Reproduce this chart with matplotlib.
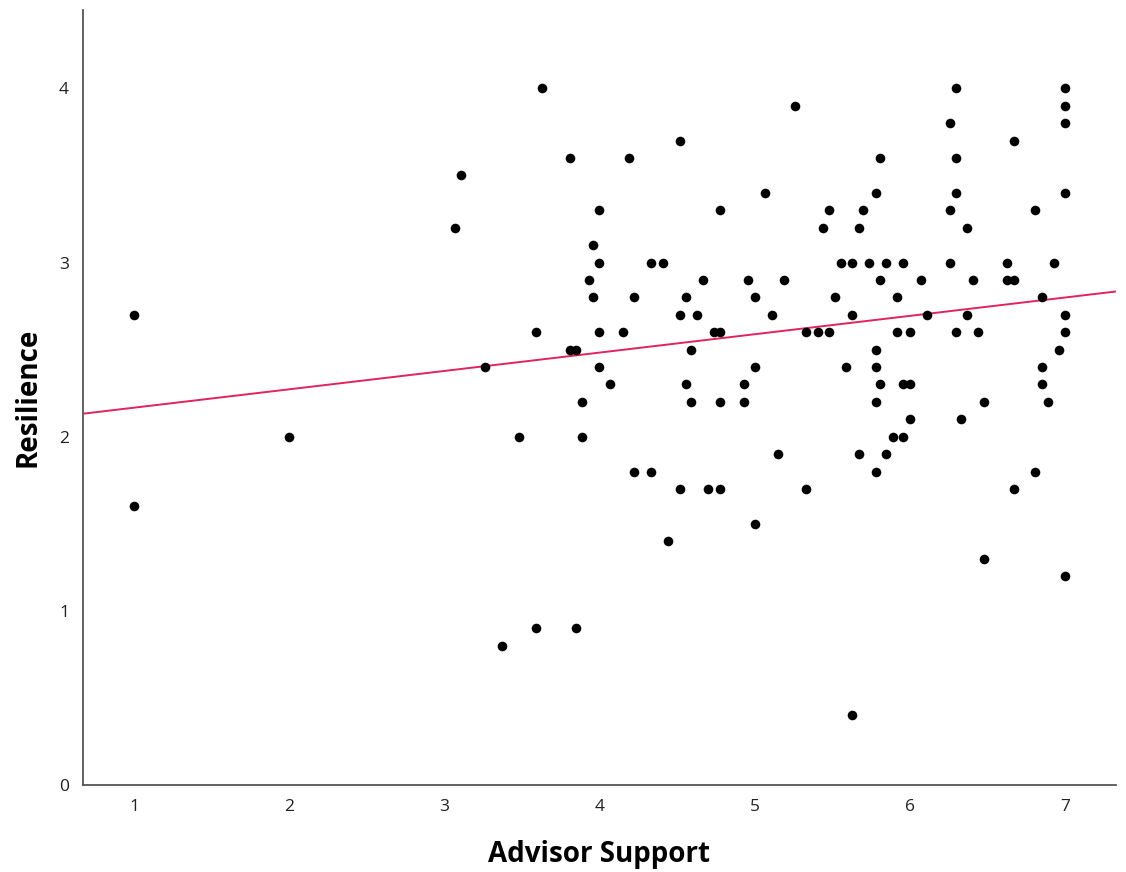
import numpy as np
import matplotlib.pyplot as plt

# advisor support (x) and resilience (y)
advisor = [1.00, 1.00, 2.00,
           3.07, 3.11, 3.26, 3.37, 3.48, 3.59, 3.59, 3.63,
           3.81, 3.81, 3.85, 3.85, 3.89, 3.89, 3.93, 3.96, 3.96,
           4.00, 4.00, 4.00, 4.00, 4.07, 4.15, 4.19, 4.22, 4.22,
           4.33, 4.33, 4.41, 4.44, 4.52, 4.52, 4.52, 4.56, 4.56,
           4.59, 4.59, 4.63, 4.67, 4.70, 4.74, 4.78, 4.78, 4.78, 4.78,
           4.93, 4.93, 4.96, 5.00, 5.00, 5.00, 5.07, 5.11, 5.15, 5.19, 5.26,
           5.33, 5.33, 5.41, 5.44, 5.48, 5.48, 5.52, 5.56, 5.59,
           5.63, 5.63, 5.63, 5.67, 5.67, 5.70, 5.74,
           5.78, 5.78, 5.78, 5.78, 5.78, 5.81, 5.81, 5.81, 5.85, 5.85, 5.89,
           5.92, 5.92, 5.96, 5.96, 5.96, 6.00, 6.00, 6.00, 6.07, 6.11,
           6.26, 6.26, 6.26, 6.30, 6.30, 6.30, 6.30,
           6.33, 6.37, 6.37, 6.41, 6.44, 6.48, 6.48,
           6.63, 6.63, 6.67, 6.67, 6.67,
           6.81, 6.81, 6.85, 6.85, 6.85, 6.89, 6.93, 6.96,
           7.00, 7.00, 7.00, 7.00, 7.00, 7.00, 7.00]
resilience = [2.7, 1.6, 2.0,
              3.2, 3.5, 2.4, 0.8, 2.0, 2.6, 0.9, 4.0,
              3.6, 2.5, 2.5, 0.9, 2.2, 2.0, 2.9, 3.1, 2.8,
              3.3, 3.0, 2.6, 2.4, 2.3, 2.6, 3.6, 2.8, 1.8,
              3.0, 1.8, 3.0, 1.4, 3.7, 2.7, 1.7, 2.8, 2.3,
              2.5, 2.2, 2.7, 2.9, 1.7, 2.6, 2.6, 3.3, 2.2, 1.7,
              2.3, 2.2, 2.9, 2.8, 2.4, 1.5, 3.4, 2.7, 1.9, 2.9, 3.9,
              2.6, 1.7, 2.6, 3.2, 3.3, 2.6, 2.8, 3.0, 2.4,
              3.0, 2.7, 0.4, 3.2, 1.9, 3.3, 3.0,
              3.4, 2.5, 2.4, 2.2, 1.8, 3.6, 2.9, 2.3, 3.0, 1.9, 2.0,
              2.8, 2.6, 3.0, 2.3, 2.0, 2.6, 2.3, 2.1, 2.9, 2.7,
              3.8, 3.3, 3.0, 4.0, 3.6, 3.4, 2.6,
              2.1, 3.2, 2.7, 2.9, 2.6, 2.2, 1.3,
              3.0, 2.9, 3.7, 2.9, 1.7,
              3.3, 1.8, 2.8, 2.4, 2.3, 2.2, 3.0, 2.5,
              4.0, 3.9, 3.8, 3.4, 2.7, 2.6, 1.2]

x_ticks = [1, 2, 3, 4, 5, 6, 7]
y_ticks = [0, 1, 2, 3, 4]

fig = plt.figure(figsize=(11.26, 8.72), dpi=100)
ax = fig.add_axes([0.0737, 0.0998, 0.9174, 0.8887])

ax.scatter(advisor, resilience, s=48, color='black', linewidths=0, zorder=3)

# linear fit line across the full x range
slope, intercept = np.polyfit(advisor, resilience, 1)
xlim = (0.67, 7.33)
xs = np.array(xlim)
ax.plot(xs, intercept + slope * xs, color='#e0245e', lw=1.4, zorder=2)

ax.set_xlim(xlim)
ax.set_ylim(0, 4.45)
ax.set_xticks(x_ticks)
ax.set_yticks(y_ticks)

for side in ['top', 'right']:
    ax.spines[side].set_visible(False)
for side in ['left', 'bottom']:
    ax.spines[side].set_color('#555555')
    ax.spines[side].set_linewidth(1.3)

ax.tick_params(length=0, labelsize=12.5, labelcolor='#222222', pad=10)
for lab in ax.get_xticklabels() + ax.get_yticklabels():
    lab.set_family(['Open Sans', 'DejaVu Sans'])

ax.set_xlabel('Advisor Support', fontsize=20, fontweight='bold',
              family=['Open Sans', 'DejaVu Sans'], labelpad=18)
ax.set_ylabel('Resilience', fontsize=20, fontweight='bold',
              family=['Open Sans', 'DejaVu Sans'], labelpad=12)

fig.savefig('out.png', dpi=100)
